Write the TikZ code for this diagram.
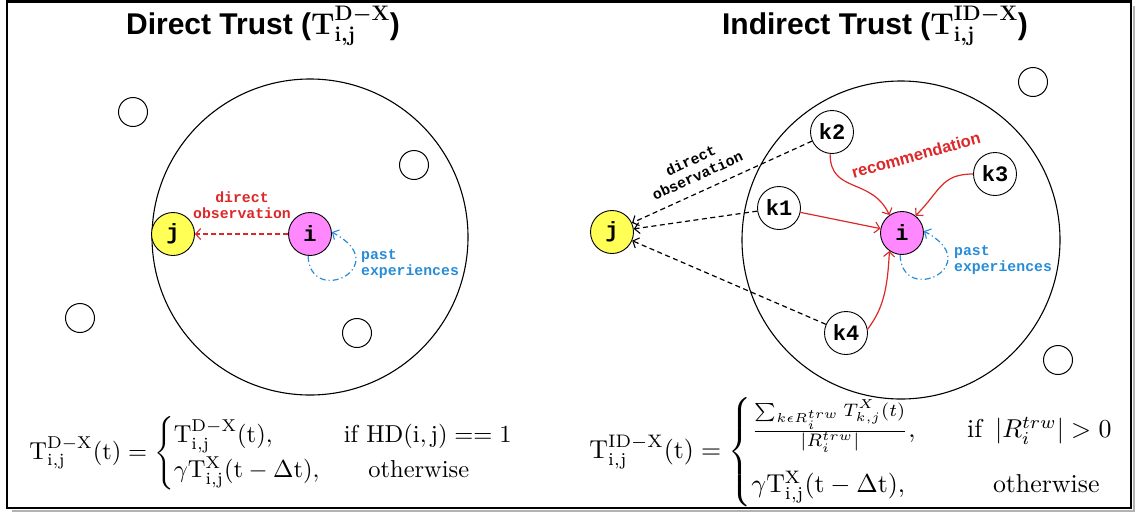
\documentclass[tikz,border=0pt]{standalone}
\usepackage{fix-cm}
\usepackage{amsmath}
\usepackage{graphicx}
\usepackage{fontspec}
\newfontfamily\hsans{Liberation Sans}
\newfontfamily\hmono{Liberation Mono}
\usetikzlibrary{arrows.meta}
\definecolor{myred}{RGB}{220,40,40}
\definecolor{myblue}{RGB}{40,140,215}
\definecolor{mypink}{RGB}{255,136,255}
\definecolor{myyellow}{RGB}{255,255,85}
\begin{document}
\begin{tikzpicture}[x=1pt,y=-1pt,
  bigcirc/.style={circle,draw,line width=1.1pt,minimum size=316pt,inner sep=0pt},
  dotc/.style={circle,draw,line width=1pt,minimum size=29pt,inner sep=0pt},
  agent/.style={circle,draw,line width=0.9pt,minimum size=43pt,inner sep=0pt,font=\hmono\bfseries\fontsize{22}{22}\selectfont},
  tip/.style={-{Straight Barb[length=5pt,width=11pt,line width=1.1pt]}},
  reddash/.style={tip,draw=myred,line width=1.2pt,dash pattern=on 5pt off 3pt},
  blackdash/.style={tip,draw=black,line width=1.2pt,dash pattern=on 5pt off 3.5pt},
  redarrow/.style={tip,draw=myred,line width=1.2pt},
  bluedd/.style={tip,draw=myblue,line width=1.2pt,dash pattern=on 6pt off 3pt on 1.2pt off 3pt},
  monolbl/.style={font=\hmono\bfseries\fontsize{14.8}{16.5}\selectfont,inner sep=0pt},
  title/.style={font=\hsans\bfseries\fontsize{30}{33}\selectfont,anchor=base,inner sep=0pt}
]
\useasboundingbox (0,0) rectangle (1135,512);
% frame
\draw[gray!60,line width=2pt] (1133.5,6) -- (1133.5,510.5) -- (12,510.5);
\draw[line width=2.4pt] (7,1.5) rectangle (1131,508);

% titles
\node[title] (t1) at (263,34) {Direct Trust ({\boldmath$\mathbf{T}^{\mathbf{D}-\mathbf{X}}_{\mathbf{i,j}}$})};
\node[title] (t2) at (875,34) {Indirect Trust ({\boldmath$\mathbf{T}^{\mathbf{ID}-\mathbf{X}}_{\mathbf{i,j}}$})};

% ---------- left ----------
\node[bigcirc] (c1) at (310,237) {};
\node[dotc] (d1) at (133,112) {};
\node[dotc] (d2) at (414,165) {};
\node[dotc] (d3) at (357,333) {};
\node[dotc] (d4) at (80,318) {};
\node[agent,fill=myyellow] (j1) at (173,234) {j};
\node[agent,fill=mypink] (i1) at (310,234) {i};
\draw[reddash] (i1) -- (j1);
\node[monolbl,text=myred,align=center] (l1) at (242,205) {direct\\observation};
\draw[bluedd] (i1.-95) .. controls +(2,52) and +(64,34) .. (i1.5);
\node[monolbl,text=myblue,align=left,anchor=west] (p1) at (361,264) {past\\experiences};

% ---------- right ----------
\node[bigcirc,minimum size=318pt] (c2) at (901,240) {};
\node[dotc] (d5) at (1033,82) {};
\node[dotc] (d6) at (1058,360) {};
\node[agent,fill=myyellow] (j2) at (612,232) {j};
\node[agent,fill=mypink] (i2) at (902,233) {i};
\node[agent,fill=white] (k2) at (832,132) {k2};
\node[agent,fill=white] (k1) at (779,208) {k1};
\node[agent,fill=white] (k3) at (995,174) {k3};
\node[agent,fill=white] (k4) at (846,333) {k4};
\draw[blackdash] (k2) -- (j2);
\draw[blackdash] (k1) -- (j2);
\draw[blackdash] (k4) -- (j2);
\node[monolbl,align=center,rotate=24.5] (l2) at (694,168) {direct\\observation};
\draw[redarrow] (k1) -- (i2);
\draw[redarrow] (k2.-95) .. controls +(0,40) and +(-18,-38) .. (i2.125);
\draw[redarrow] (k3.west) .. controls +(-32,0) and +(25,-25) .. (i2.52);
\draw[redarrow] (k4.10) .. controls +(15,-20) and +(-2,40) .. (i2.-125);
\node[font=\hsans\bfseries\fontsize{16.5}{18}\selectfont,text=myred,rotate=15.5,inner sep=0pt] (rec) at (916,155) {recommendation};
\draw[bluedd] (i2.-95) .. controls +(2,52) and +(64,34) .. (i2.5);
\node[monolbl,text=myblue,align=left,anchor=west] (p2) at (954,260) {past\\experiences};

% ---------- formulas ----------
\node[inner sep=0pt] (f1) at (272,453) {\resizebox{485pt}{!}{$\mathrm{T}^{\mathrm{D-X}}_{\mathrm{i,j}}(\mathrm{t})=\begin{cases}\mathrm{T}^{\mathrm{D-X}}_{\mathrm{i,j}}(\mathrm{t}), & \text{if}\ \mathrm{HD}(\mathrm{i},\mathrm{j}) == 1\\ \gamma\mathrm{T}^{\mathrm{X}}_{\mathrm{i,j}}(\mathrm{t}-\Delta\mathrm{t}), & \quad\text{otherwise}\end{cases}$}};
\node[inner sep=0pt] (f2) at (852,452) {\resizebox{525pt}{!}{$\mathrm{T}^{\mathrm{ID-X}}_{\mathrm{i,j}}(\mathrm{t})=\begin{cases}\frac{\sum_{k\epsilon R_i^{trw}}T^{X}_{k,j}(t)}{|R_i^{trw}|}, & \quad\text{if}\ \left|R_i^{trw}\right|>0\\[7pt] \gamma\mathrm{T}^{\mathrm{X}}_{\mathrm{i,j}}(\mathrm{t}-\Delta\mathrm{t}), & \qquad\text{otherwise}\end{cases}$}};
\end{tikzpicture}
\end{document}
